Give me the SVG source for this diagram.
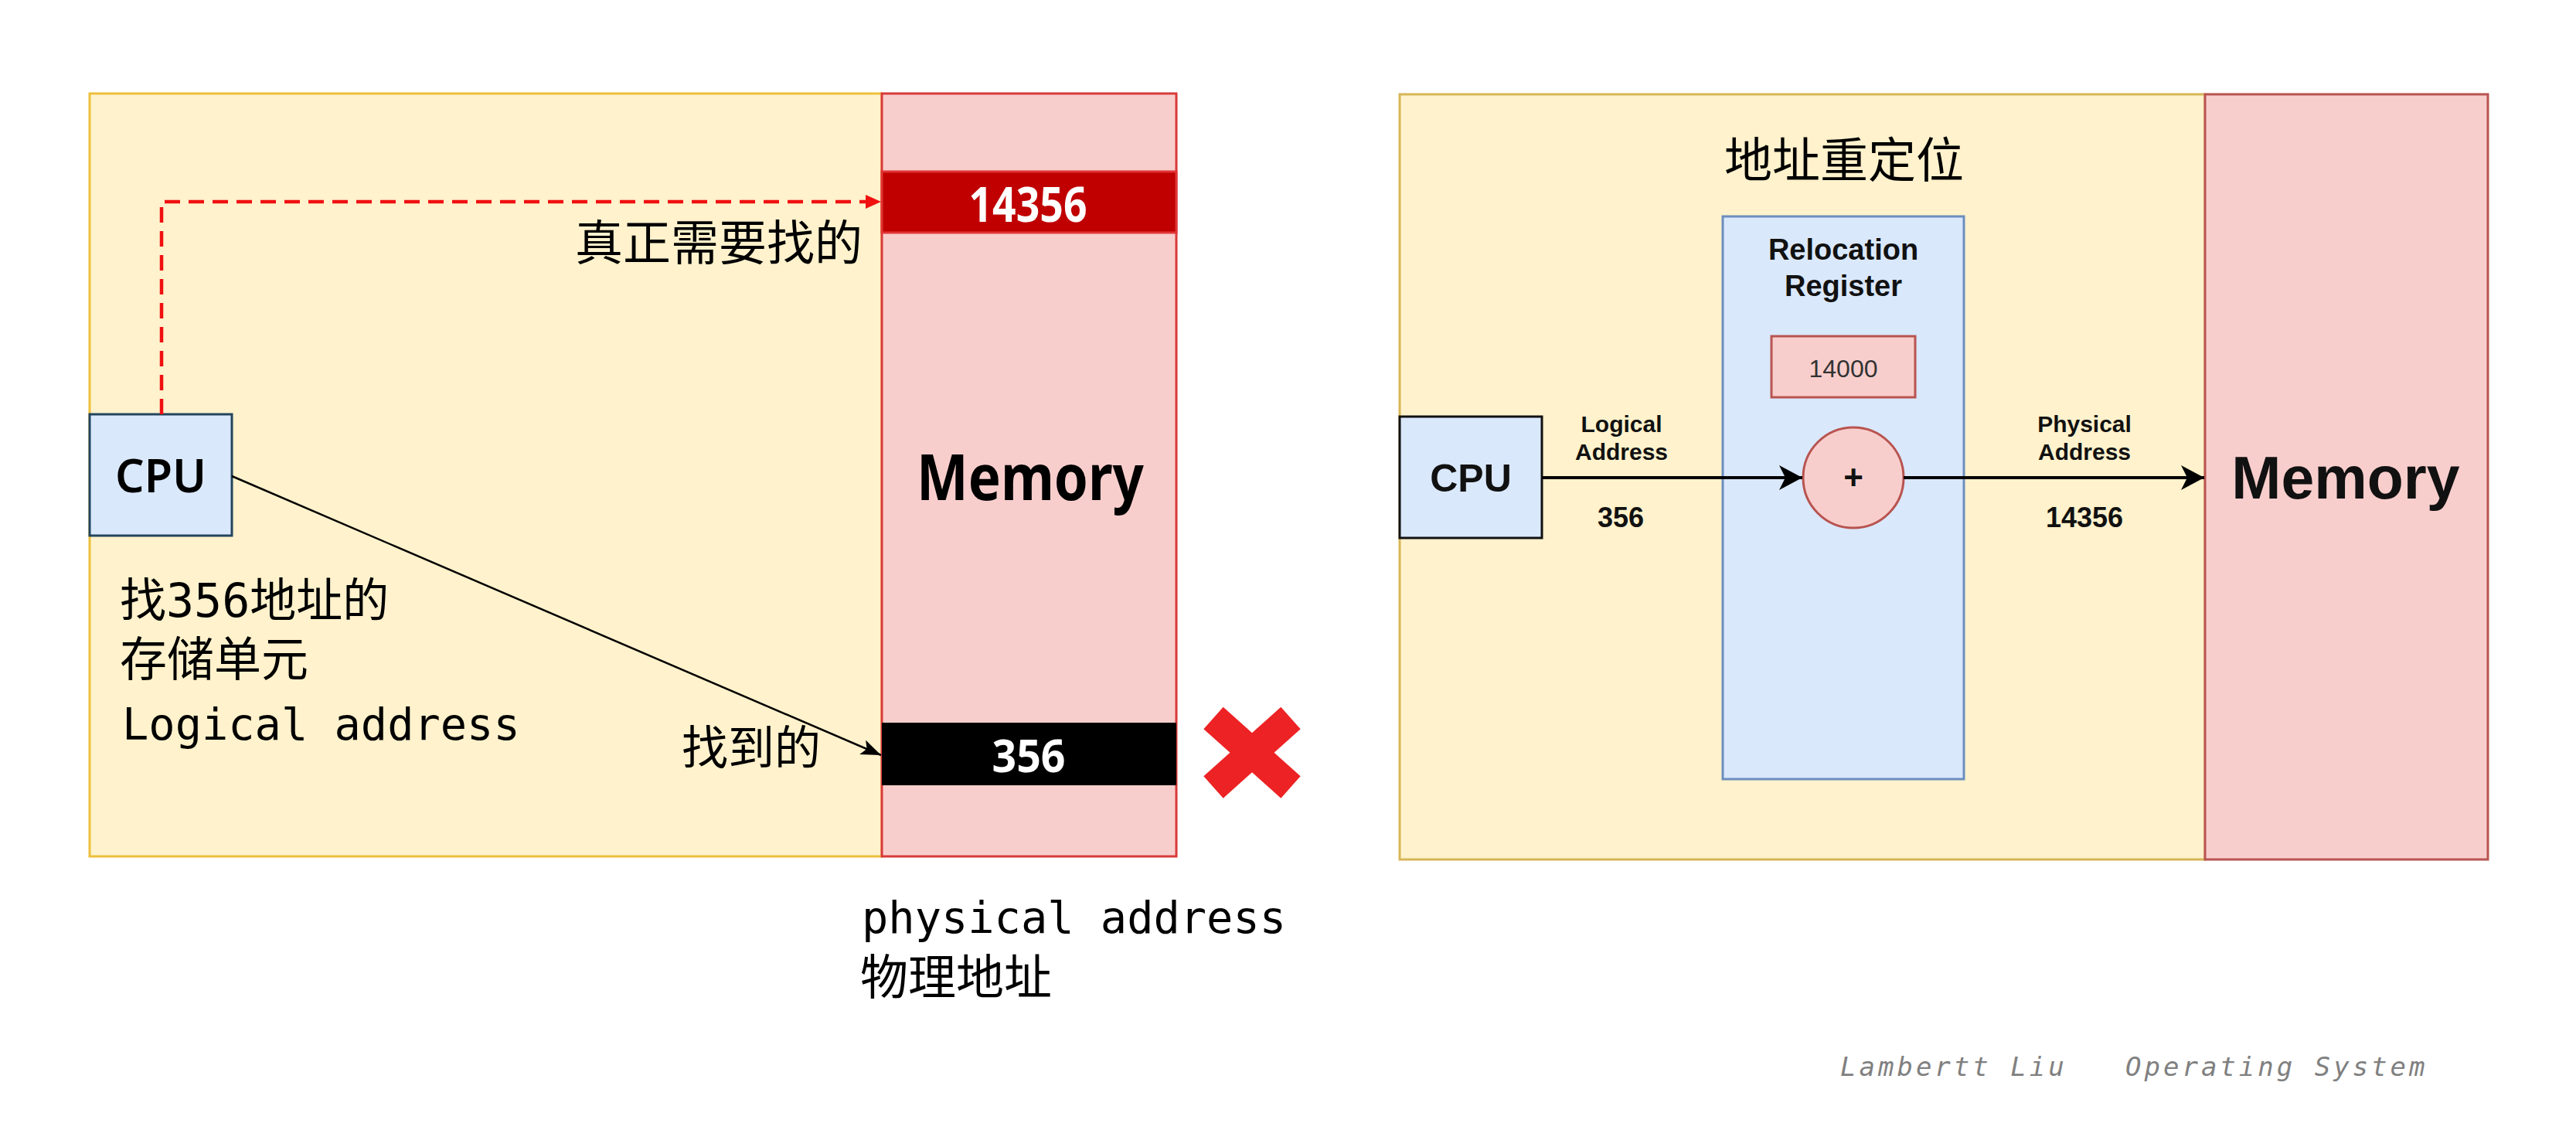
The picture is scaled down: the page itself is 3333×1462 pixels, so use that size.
<svg xmlns="http://www.w3.org/2000/svg" width="3333" height="1462" viewBox="0 0 3333 1462">
<style>
.mono{font-family:"DejaVu Sans Mono","Noto Sans CJK SC",monospace;fill:#000}
.cjk{font-family:"Noto Sans CJK SC",sans-serif;fill:#000}
.din{font-family:"Noto Sans","Liberation Sans",sans-serif;font-weight:700}
.arial{font-family:"Liberation Sans",Arial,sans-serif;font-weight:700;fill:#111}
.yellowL{fill:#FFF2CC;stroke:#EDC03C;stroke-width:3}
.yellowR{fill:#FFF2CC;stroke:#D6B656;stroke-width:3}
.memL{fill:#F8CECC;stroke:#D93A3A;stroke-width:3}
.memR{fill:#F8CECC;stroke:#B85450;stroke-width:3}
.blue{fill:#DAE8FC;stroke:#6C8EBF;stroke-width:3}
.pink{fill:#F8CECC;stroke:#B85450;stroke-width:3}
</style>
<defs>
<marker id="arrRed" markerUnits="userSpaceOnUse" markerWidth="20" markerHeight="18" viewBox="0 0 20 18" refX="20" refY="9" orient="auto">
<path d="M0,0 L20,9 L0,18 Z" fill="#F01010"/>
</marker>
<marker id="arrBlk" markerUnits="userSpaceOnUse" markerWidth="26" markerHeight="20" viewBox="0 0 26 20" refX="26" refY="10" orient="auto">
<path d="M0,0 L26,10 L0,20 L6,10 Z" fill="#000"/>
</marker>
<marker id="arrBig" markerUnits="userSpaceOnUse" markerWidth="30" markerHeight="32" viewBox="0 0 30 32" refX="30" refY="16" orient="auto">
<path d="M0,0 L30,16 L0,32 L8,16 Z" fill="#000"/>
</marker>
</defs>
<rect width="3333" height="1462" fill="#FFFFFF"/>

<!-- Left panel -->
<g id="left-background">
<rect class="yellowL" x="116" y="121" width="1025" height="987"/>
</g>
<g id="left-memory">
<rect class="memL" x="1141" y="121" width="381" height="987"/>
<text class="din" x="1333" y="647" font-size="83" text-anchor="middle" textLength="294" lengthAdjust="spacingAndGlyphs" fill="#000">Memory</text>
</g>
<g id="cell-14356">
<rect x="1141" y="222" width="381" height="79" fill="#C00000" stroke="#E03434" stroke-width="3"/>
<text class="din" x="1330" y="287" font-size="63" text-anchor="middle" textLength="153" lengthAdjust="spacingAndGlyphs" fill="#FFFFFF">14356</text>
</g>
<g id="cell-356">
<rect x="1141" y="935" width="381" height="81" fill="#000000"/>
<text class="din" x="1331" y="999" font-size="60" text-anchor="middle" textLength="95" lengthAdjust="spacingAndGlyphs" fill="#FFFFFF">356</text>
</g>
<g id="left-cpu">
<rect x="116" y="536" width="184" height="157" fill="#DAE8FC" stroke="#23445D" stroke-width="3"/>
<text x="208" y="637" font-family="'Noto Sans',sans-serif" font-weight="600" font-size="59" text-anchor="middle" fill="#000">CPU</text>
</g>
<g id="left-connectors">
<path d="M209,536 V261 H1140" fill="none" stroke="#F01010" stroke-width="4.5" stroke-dasharray="20 11" marker-end="url(#arrRed)"/>
<line x1="300" y1="616" x2="1140" y2="977" stroke="#000" stroke-width="2.5" marker-end="url(#arrBlk)"/>
</g>
<g id="left-labels">
<text class="cjk" x="1116" y="337" font-size="62" text-anchor="end">真正需要找的</text>
<text class="mono" x="155" y="798" font-size="60">找356地址的</text>
<text class="cjk" x="155" y="875" font-size="61">存储单元</text>
<text class="mono" x="158" y="957" font-size="57">Logical address</text>
<text class="cjk" x="1062" y="989" font-size="60" text-anchor="end">找到的</text>
<text class="mono" x="1115" y="1207" font-size="57">physical address</text>
<text class="cjk" x="1113" y="1287" font-size="62">物理地址</text>
</g>
<g id="wrong-mark">
<line x1="1570" y1="929" x2="1670" y2="1018.5" stroke="#ED2224" stroke-width="38"/>
<line x1="1670" y1="929" x2="1570" y2="1018.5" stroke="#ED2224" stroke-width="38"/>
</g>

<!-- Right panel -->
<g id="right-background">
<rect class="yellowR" x="1811" y="122" width="1042" height="990"/>
<text class="cjk" x="2386" y="230" font-size="62" text-anchor="middle">地址重定位</text>
</g>
<g id="right-memory">
<rect class="memR" x="2853" y="122" width="366" height="990"/>
<text class="arial" x="3035" y="645" font-size="77" text-anchor="middle" fill="#000">Memory</text>
</g>
<g id="relocation-register">
<rect class="blue" x="2229" y="280" width="312" height="728"/>
<text class="arial" x="2385" y="336" font-size="38" text-anchor="middle">Relocation</text>
<text class="arial" x="2385" y="383" font-size="38" text-anchor="middle">Register</text>
</g>
<g id="register-value">
<rect class="pink" x="2292" y="435" width="186" height="79"/>
<text x="2385" y="488" font-family="'Liberation Sans',Arial,sans-serif" font-size="32" text-anchor="middle" fill="#333">14000</text>
</g>
<g id="adder">
<circle class="pink" cx="2398" cy="618" r="65"/>
<text class="arial" x="2398" y="633" font-size="44" text-anchor="middle" fill="#000">+</text>
</g>
<g id="right-cpu">
<rect x="1811" y="539" width="184" height="157" fill="#DAE8FC" stroke="#111" stroke-width="3"/>
<text class="arial" x="1903" y="636" font-size="50" text-anchor="middle" fill="#000">CPU</text>
</g>
<g id="right-connectors">
<line x1="1995" y1="618" x2="2332" y2="618" stroke="#000" stroke-width="4" marker-end="url(#arrBig)"/>
<line x1="2463" y1="618" x2="2852" y2="618" stroke="#000" stroke-width="4" marker-end="url(#arrBig)"/>
</g>
<g id="right-labels">
<text class="arial" x="2098" y="559" font-size="30" text-anchor="middle" fill="#222">Logical</text>
<text class="arial" x="2098" y="595" font-size="30" text-anchor="middle" fill="#222">Address</text>
<text class="arial" x="2097" y="682" font-size="36" text-anchor="middle" fill="#222">356</text>
<text class="arial" x="2697" y="559" font-size="30" text-anchor="middle" fill="#222">Physical</text>
<text class="arial" x="2697" y="595" font-size="30" text-anchor="middle" fill="#222">Address</text>
<text class="arial" x="2697" y="682" font-size="36" text-anchor="middle" fill="#222">14356</text>
</g>
<g id="watermark">
<text font-family="'DejaVu Sans Mono',monospace" font-style="italic" font-size="34" letter-spacing="4" fill="#808080" y="1392"><tspan x="2381">Lambertt Liu</tspan><tspan x="2750">Operating System</tspan></text>
</g>
</svg>
